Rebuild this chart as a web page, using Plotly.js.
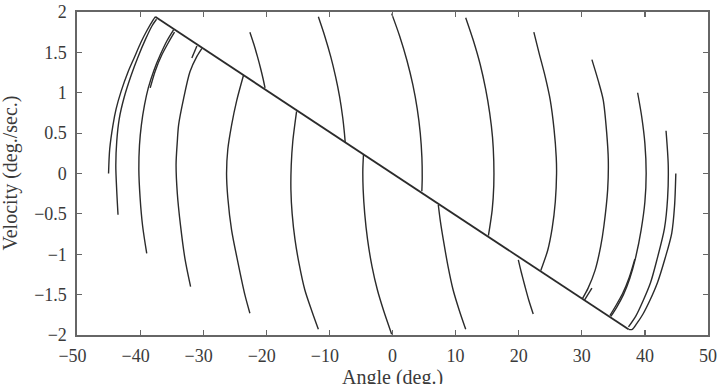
<!DOCTYPE html>
<html>
<head>
<meta charset="utf-8">
<script src="https://cdn.plot.ly/plotly-3.0.1.min.js"></script>
<style>html,body{margin:0;padding:0;background:#fff;}#chart{width:722px;height:384px;}</style>
</head>
<body>
<div id="chart"></div>
<script>
// Tick labels and axis titles
const xTickVals = [-50, -40, -30, -20, -10, 0, 10, 20, 30, 40, 50];
const xTickText = ['\u221250\u2002', '\u221240\u2002', '\u221230\u2002', '\u221220\u2002', '\u221210\u2002', '0', '10', '20', '30', '40', '50'];
const xTitle = 'Angle (deg.)';
const yTitle = 'Velocity (deg./sec.)';

// Sliding line
const lineX = [-37.6, 37.4];
const lineY = [1.94, -1.93];

// Arcs above the sliding line (upper right)
const a1x = [-22.6, -21.97, -21.41, -20.9, -20.53, -20.2];
const a1y = [1.75, 1.6, 1.45, 1.3, 1.18, 1.06];
const a2x = [-11.75, -10.73, -9.8, -9.02, -8.38, -7.9, -7.62, -7.5];
const a2y = [1.94, 1.7, 1.45, 1.2, 0.95, 0.7, 0.5, 0.39];
const a3x = [-0.13, 1.14, 2.29, 3.22, 3.92, 4.4, 4.66, 4.71, 4.65];
const a3y = [1.98, 1.7, 1.4, 1.1, 0.8, 0.5, 0.2, -0.05, -0.22];
const a4x = [11.6, 12.8, 13.9, 14.75, 15.4, 15.85, 16.05, 16.05, 15.8, 15.2];
const a4y = [1.93, 1.65, 1.35, 1.05, 0.75, 0.45, 0.15, -0.15, -0.45, -0.77];
const a5x = [22.4, 23.2, 24.2, 25.0, 25.6, 25.95, 26.0, 25.8, 25.3, 24.6, 23.5];
const a5y = [1.75, 1.5, 1.2, 0.91, 0.55, 0.2, 0.0, -0.35, -0.68, -0.95, -1.2];
const a6x = [31.6, 32.6, 33.4, 33.95, 34.2, 34.1, 33.5, 33.0, 32.1, 31.0, 30.1];
const a6y = [1.41, 1.15, 0.91, 0.5, 0.17, -0.2, -0.65, -0.9, -1.2, -1.42, -1.55];
const a6hx = [30.4, 31.6];
const a6hy = [-1.57, -1.42];
const a7x = [38.85, 39.5, 40.0, 40.2, 40.0, 39.4, 38.5, 37.6, 36.6, 35.5, 34.6];
const a7y = [1.0, 0.7, 0.37, 0.0, -0.35, -0.7, -1.05, -1.3, -1.5, -1.66, -1.77];
const a7dx = [38.4, 37.5, 36.45, 35.3, 34.45];
const a7dy = [-1.06, -1.29, -1.49, -1.65, -1.76];
const a8x = [43.35, 43.7, 43.6, 43.1, 41.9, 40.9, 39.75, 38.6, 37.4];
const a8y = [0.53, 0.1, -0.3, -0.68, -1.07, -1.35, -1.57, -1.76, -1.9];
const a9x = [44.9, 44.7, 44.25, 43.2, 42.0, 40.8, 39.7, 38.7, 38.0, 37.4];
const a9y = [0.0, -0.4, -0.74, -1.05, -1.35, -1.57, -1.74, -1.86, -1.93, -1.93];

// Arcs below the sliding line (lower left)
const b1x = [-45.0, -44.82, -44.3, -43.8, -43.0, -41.9, -40.9, -39.9, -38.85, -37.95, -37.6];
const b1y = [0.0, 0.3, 0.6, 0.8, 1.02, 1.26, 1.44, 1.62, 1.78, 1.9, 1.94];
const b2x = [-43.5, -43.7, -43.85, -43.7, -43.3, -42.5, -41.4, -40.3, -39.1, -38.1, -37.4];
const b2y = [-0.51, -0.22, 0.1, 0.4, 0.68, 0.95, 1.22, 1.45, 1.67, 1.83, 1.91];
const b3x = [-38.95, -39.6, -40.0, -40.2, -40.1, -39.8, -39.3, -38.7, -37.8, -36.8, -35.7, -34.7];
const b3y = [-0.99, -0.65, -0.3, 0.05, 0.35, 0.6, 0.85, 1.06, 1.28, 1.47, 1.65, 1.78];
const b3dx = [-38.4, -37.6, -36.55, -35.45, -34.55];
const b3dy = [1.06, 1.27, 1.47, 1.63, 1.75];
const b4x = [-32.0, -32.9, -33.6, -34.1, -34.3, -34.1, -33.9, -33.1, -32.1, -31.0, -30.2];
const b4y = [-1.40, -1.05, -0.64, -0.25, 0.11, 0.4, 0.6, 0.93, 1.26, 1.45, 1.55];
const b4hx = [-31.8, -31.0];
const b4hy = [1.43, 1.58];
const b5x = [-22.6, -23.4, -24.5, -25.5, -26.1, -26.3, -26.1, -25.5, -24.7, -23.6];
const b5y = [-1.73, -1.5, -1.1, -0.7, -0.3, 0.0, 0.3, 0.6, 0.9, 1.22];
const b6x = [-11.75, -12.8, -13.9, -14.8, -15.45, -15.9, -16.1, -16.05, -15.8, -15.2];
const b6y = [-1.93, -1.7, -1.44, -1.12, -0.82, -0.5, -0.2, 0.1, 0.4, 0.77];
const b7x = [-0.13, -1.4, -2.4, -3.25, -3.95, -4.4, -4.65, -4.7, -4.6];
const b7y = [-1.99, -1.7, -1.44, -1.15, -0.82, -0.5, -0.2, 0.05, 0.23];
const b8x = [11.6, 10.6, 9.6, 8.8, 8.05, 7.6, 7.26];
const b8y = [-1.93, -1.7, -1.44, -1.15, -0.82, -0.6, -0.39];
const b9x = [22.3, 21.6, 21.0, 20.4, 19.94];
const b9y = [-1.74, -1.57, -1.40, -1.22, -1.07];

const arcs = [
  [lineX, lineY],
  [a1x, a1y], [a2x, a2y], [a3x, a3y], [a4x, a4y], [a5x, a5y],
  [a6x, a6y], [a6hx, a6hy], [a7x, a7y], [a7dx, a7dy], [a8x, a8y], [a9x, a9y],
  [b1x, b1y], [b2x, b2y], [b3x, b3y], [b3dx, b3dy], [b4x, b4y], [b4hx, b4hy],
  [b5x, b5y], [b6x, b6y], [b7x, b7y], [b8x, b8y], [b9x, b9y]
];

const traces = arcs.map(function (p, i) {
  return {
    x: p[0], y: p[1], type: 'scatter', mode: 'lines',
    line: {color: '#2b2b2b', width: i === 0 ? 1.8 : 1.4, shape: 'spline', smoothing: 0.8},
    showlegend: false, hoverinfo: 'skip'
  };
});

const serif = '"Liberation Serif", "DejaVu Serif", serif';
const tickFont = {family: serif, size: 18, color: '#3a3a3a'};
const titleFont = {family: serif, size: 20, color: '#3a3a3a'};

const layout = {
  width: 722, height: 384,
  margin: {l: 77, r: 14, t: 12, b: 49},
  paper_bgcolor: '#ffffff', plot_bgcolor: '#ffffff',
  showlegend: false,
  xaxis: {
    range: [-50, 50], tickmode: 'array', tickvals: xTickVals, ticktext: xTickText,
    ticks: 'inside', ticklen: 5, tickwidth: 1.2, tickcolor: '#666',
    showline: true, linecolor: '#666', linewidth: 1.6, mirror: 'ticks',
    showgrid: false, zeroline: false,
    tickfont: tickFont, ticklabelstandoff: 4
  },
  yaxis: {
    range: [-2, 2], dtick: 0.5, tick0: -2,
    ticks: 'inside', ticklen: 5, tickwidth: 1.2, tickcolor: '#666',
    showline: true, linecolor: '#666', linewidth: 1.6, mirror: 'ticks',
    showgrid: false, zeroline: false,
    tickfont: tickFont, ticklabelstandoff: 5
  },
  annotations: [
    {text: xTitle, xref: 'paper', yref: 'paper', x: 0.5, y: 0, xanchor: 'center', yanchor: 'top',
     yshift: -29, showarrow: false, font: titleFont},
    {text: yTitle, xref: 'paper', yref: 'paper', x: 0, y: 0.5, xanchor: 'center', yanchor: 'middle',
     xshift: -67, textangle: -90, showarrow: false, font: titleFont}
  ]
};

Plotly.newPlot('chart', traces, layout, {staticPlot: true, displayModeBar: false});
</script>
</body>
</html>
